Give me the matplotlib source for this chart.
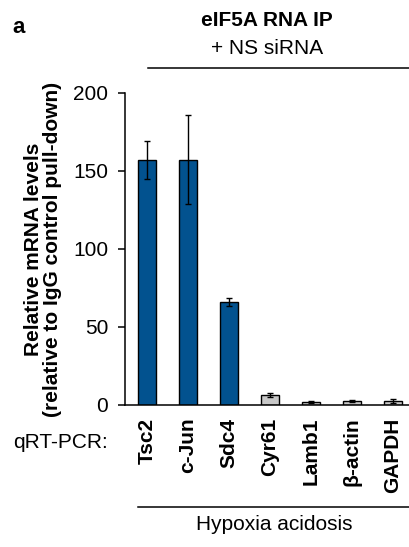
import numpy as np
import matplotlib
matplotlib.use("Agg")
import matplotlib.pyplot as plt
from matplotlib.lines import Line2D

plt.rcParams['font.family'] = ['Liberation Sans', 'DejaVu Sans']

# Values
genes = ['Tsc2', 'c-Jun', 'Sdc4', 'Cyr61', 'Lamb1', 'β-actin', 'GAPDH']
means = [157, 157, 65.8, 6.4, 1.9, 2.6, 2.6]
errors = [12, 28.5, 2.5, 1.5, 0.8, 0.7, 1.0]
colors = ['#02528f', '#02528f', '#02528f', '#c8c8c8', '#c8c8c8', '#c8c8c8', '#c8c8c8']
y_ticks = [0, 50, 100, 150, 200]

W, H = 409, 547
fig = plt.figure(figsize=(W / 100, H / 100), dpi=100)
ax = fig.add_axes([125 / W, 1 - 405 / H, 1 - 125 / W, (405 - 92.7) / H])

x = np.arange(len(genes))
ax.bar(x, means, width=0.44, color=colors, edgecolor='black', linewidth=1.0,
       yerr=errors, error_kw=dict(ecolor='black', elinewidth=1.0, capsize=2.5, capthick=1.0),
       zorder=2)

ax.set_xlim(-0.54, 6.39)
ax.set_ylim(0, 200)
ax.set_yticks(y_ticks)
ax.set_xticks(x)
ax.set_xticklabels(genes, rotation=90, fontweight='bold', fontsize=15)
ax.tick_params(axis='x', length=0, pad=9)
ax.tick_params(axis='y', length=5, width=1.1, labelsize=15, pad=7, direction='out')
for s in ['top', 'right']:
    ax.spines[s].set_visible(False)
for s in ['left', 'bottom']:
    ax.spines[s].set_linewidth(1.1)

# labels and brackets
fig.text(43 / W, 1 - 249 / H, 'Relative mRNA levels\n(relative to IgG control pull-down)',
         rotation=90, ha='center', va='center', multialignment='center',
         fontsize=15, fontweight='bold', linespacing=1.05)
fig.text(12 / W, 1 - 33 / H, 'a', fontsize=16, fontweight='bold', ha='left', va='baseline')
fig.text(267 / W, 1 - 20 / H, 'eIF5A RNA IP', fontsize=15, fontweight='bold', ha='center', va='center')
fig.text(267 / W, 1 - 49 / H, '+ NS siRNA', fontsize=15, ha='center', va='center')
fig.text(13 / W, 1 - 443 / H, 'qRT-PCR:', fontsize=15, ha='left', va='center')
fig.text(274 / W, 1 - 525 / H, 'Hypoxia acidosis', fontsize=15, ha='center', va='center')

fig.add_artist(Line2D([148 / W, 1.0], [1 - 68 / H, 1 - 68 / H], color='black', lw=1.1))
fig.add_artist(Line2D([138 / W, 1.0], [1 - 507 / H, 1 - 507 / H], color='black', lw=1.1))

fig.savefig('out.png', dpi=100)
